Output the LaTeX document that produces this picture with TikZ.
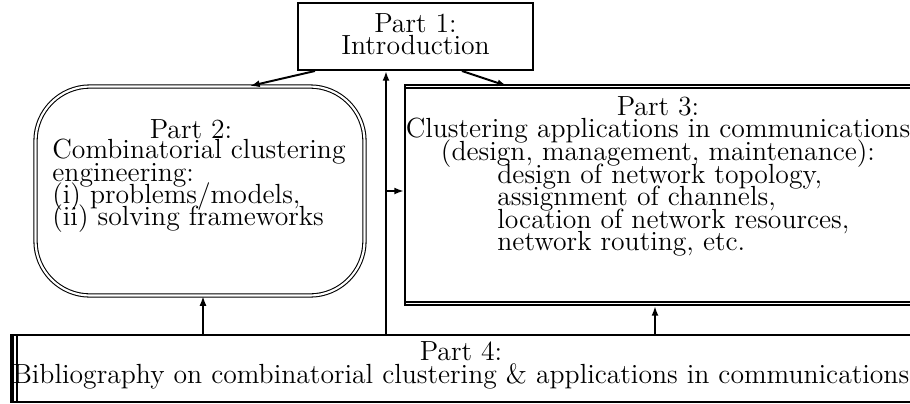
\documentclass[tikz,border=0pt]{standalone}
\usetikzlibrary{arrows.meta}
\newcommand\tightlines{\fontsize{14.2}{11.5}\selectfont\lineskiplimit=-100pt\relax\lineskip=0pt\relax}
\begin{document}
\begin{tikzpicture}[x=0.5128pt,y=-0.5128pt,
  txt/.style={inner sep=0pt,font=\tightlines},
  thickbox/.style={draw,line width=1pt,rectangle,inner sep=0pt},
  conn/.style={line width=1pt,-{Latex[length=5pt,width=3.6pt]}}]
\clip (0,0) rectangle (910,403);

% Part 1
\node[thickbox,minimum width={235*0.5128pt},minimum height={67*0.5128pt}] (p1) at (415.5,36.5) {};
\node[txt,align=center] (p1t) at (415.5,34) {Part 1:\\Introduction};

% Part 2: rounded double frame
\node[draw,rectangle,double,line width=0.55pt,double distance=1.1pt,
  rounded corners=28pt,minimum width={329*0.5128pt},minimum height={209*0.5128pt},inner sep=0pt]
  (p2) at (200,191) {};
\node[txt] (p2h) at (191,129) {Part 2:};
\node[txt,align=left,anchor=west] (p2b) at (52,186) {Combinatorial clustering\\engineering:\\(i) problems/models,\\(ii) solving frameworks};

% Part 3: frame with doubled top and bottom
\node[thickbox,minimum width={507*0.5128pt},minimum height={220*0.5128pt}] (p3) at (658.5,195) {};
\draw[line width=1pt] ([yshift=-2.1pt]p3.north west) -- ([yshift=-2.1pt]p3.north east);
\draw[line width=1pt] ([yshift=2.1pt]p3.south west) -- ([yshift=2.1pt]p3.south east);
\node[txt,align=center] (p3h) at (658,132) {Part 3:\\Clustering applications in communications\\(design, management, maintenance):};
\node[txt,align=left,anchor=west] (p3b) at (497,210) {design of network topology,\\assignment of channels,\\location of network resources,\\network routing, etc.};

% Part 4: frame with tripled left side
\node[thickbox,minimum width={901*0.5128pt},minimum height={67*0.5128pt}] (p4) at (461.5,368.5) {};
\draw[line width=0.9pt] ([xshift=1.7pt]p4.north west) -- ([xshift=1.7pt]p4.south west);
\draw[line width=0.9pt] ([xshift=3.4pt]p4.north west) -- ([xshift=3.4pt]p4.south west);
\node[txt,align=center] (p4t) at (461,365.5) {Part 4:\\Bibliography on combinatorial clustering \& applications in communications};

% Connectors
\coordinate (trunk) at (386,191);
\draw[conn] (p4.north -| trunk) -- (p1.south -| trunk);
\draw[conn] (trunk) -- (trunk -| p3.west);
\draw[conn] (p4.north -| 203,0) -- (p2.south -| 203,0);
\draw[conn] (p4.north -| 655,0) -- (p3.south -| 655,0);
\draw[conn] (p1.south -| 315,0) -- (250,86);
\draw[conn] (p1.south -| 462,0) -- (507,86);
\end{tikzpicture}
\end{document}
